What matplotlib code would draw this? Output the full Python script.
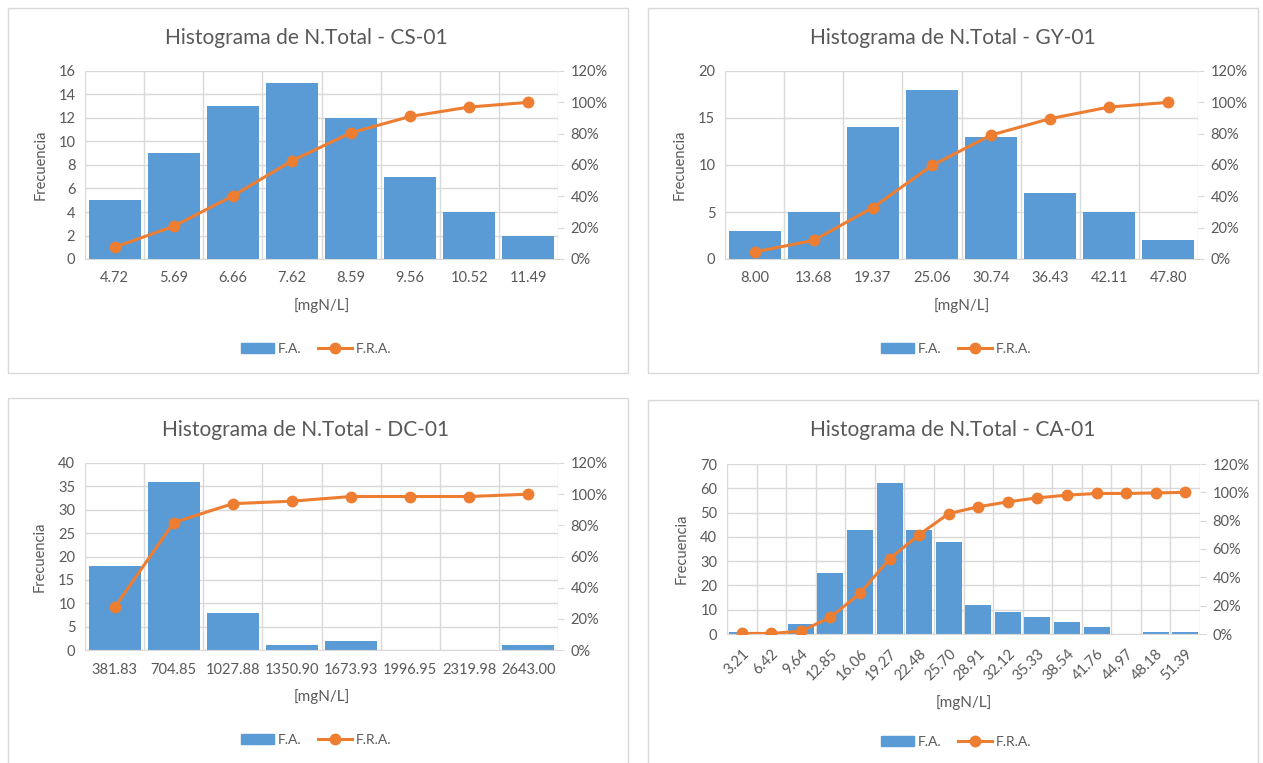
import numpy as np
import matplotlib
matplotlib.use("Agg")
import matplotlib.pyplot as plt
from matplotlib.patches import Rectangle, Patch
from matplotlib.lines import Line2D
from matplotlib.ticker import FuncFormatter

plt.rcParams['font.family'] = ['Lato', 'DejaVu Sans']

# data
cs_labels = ['4.72', '5.69', '6.66', '7.62', '8.59', '9.56', '10.52', '11.49']
cs_freq = [5, 9, 13, 15, 12, 7, 4, 2]
cs_cum = [7.5, 20.9, 40.3, 62.7, 80.6, 91.0, 97.0, 100.0]

gy_labels = ['8.00', '13.68', '19.37', '25.06', '30.74', '36.43', '42.11', '47.80']
gy_freq = [3, 5, 14, 18, 13, 7, 5, 2]
gy_cum = [4.5, 11.9, 32.8, 59.7, 79.1, 89.6, 97.0, 100.0]

dc_labels = ['381.83', '704.85', '1027.88', '1350.90', '1673.93', '1996.95', '2319.98', '2643.00']
dc_freq = [18, 36, 8, 1, 2, 0, 0, 1]
dc_cum = [27.3, 81.8, 93.9, 95.5, 98.5, 98.5, 98.5, 100.0]

ca_labels = ['3.21', '6.42', '9.64', '12.85', '16.06', '19.27', '22.48', '25.70',
             '28.91', '32.12', '35.33', '38.54', '41.76', '44.97', '48.18', '51.39']
ca_freq = [1, 0, 4, 25, 43, 62, 43, 38, 12, 9, 7, 5, 3, 0, 1, 1]
ca_cum = [0.4, 0.4, 2.0, 11.8, 28.7, 53.1, 70.1, 85.0, 89.8, 93.3, 96.1, 98.0, 99.2, 99.2, 99.6, 100.0]

BLUE = '#5B9BD5'
ORANGE = '#ED7D31'
GRID = '#D9D9D9'
TXT = '#595959'

W, H = 1263, 763
fig = plt.figure(figsize=(W / 100, H / 100), dpi=100)


def px_rect(x0, y0, x1, y1):
    return [x0 / W, 1 - y1 / H, (x1 - x0) / W, (y1 - y0) / H]


def draw_panel(panel, axbox, title, title_xy, legend_xy, labels, freq, cum, ymax, ystep, rotate=False):
    # chart border
    px0, py0, px1, py1 = panel
    fig.patches.append(Rectangle((px0 / W, 1 - py1 / H), (px1 - px0) / W, (py1 - py0) / H,
                                 transform=fig.transFigure, fill=False, ec=GRID, lw=1))
    fig.text(title_xy[0] / W, 1 - title_xy[1] / H, title, ha='center', va='center',
             fontsize=15, color=TXT)

    ax = fig.add_axes(px_rect(*axbox))
    x = np.arange(len(labels))
    ax.bar(x, freq, width=0.88, color=BLUE, zorder=2)
    ax.set_xlim(-0.5, len(labels) - 0.5)
    ax.set_ylim(0, ymax)
    ax.set_yticks(np.arange(0, ymax + 0.1, ystep))
    ax.set_xticks(x)
    if rotate:
        ax.set_xticklabels(labels, rotation=45, ha='right', rotation_mode='anchor')
    else:
        ax.set_xticklabels(labels)
    ax.set_xticks(np.arange(-0.5, len(labels), 1), minor=True)
    ax.grid(axis='y', which='major', color=GRID, lw=1, zorder=0)
    ax.grid(axis='x', which='minor', color=GRID, lw=1, zorder=0)
    ax.tick_params(axis='y', which='both', length=0, labelsize=10.5, labelcolor=TXT, pad=7)
    ax.tick_params(axis='x', which='both', length=0, labelsize=10.5, labelcolor=TXT, pad=9)
    for s in ['top', 'right', 'left']:
        ax.spines[s].set_visible(False)
    ax.spines['bottom'].set_color(GRID)
    ax.set_axisbelow(True)
    ax.set_ylabel('Frecuencia', fontsize=10.5, color=TXT, labelpad=8)
    ax.set_xlabel('[mgN/L]', fontsize=11, color=TXT, labelpad=9)

    ax2 = ax.twinx()
    ax2.plot(x, cum, color=ORANGE, lw=2.2, marker='o', ms=7.5, zorder=3)
    ax2.set_ylim(0, 120)
    ax2.set_yticks(np.arange(0, 121, 20))
    ax2.yaxis.set_major_formatter(FuncFormatter(lambda v, p: f'{v:.0f}%'))
    ax2.tick_params(axis='y', length=4, color=GRID, labelsize=10.5, labelcolor=TXT, pad=5)
    for s in ['top', 'right', 'left', 'bottom']:
        ax2.spines[s].set_visible(False)

    handles = [Patch(color=BLUE, label='F.A.'),
               Line2D([0], [0], color=ORANGE, lw=2.2, marker='o', ms=7.5, label='F.R.A.')]
    leg = fig.legend(handles=handles, loc='center', ncol=2, frameon=False,
                     bbox_to_anchor=(legend_xy[0] / W, 1 - legend_xy[1] / H),
                     fontsize=10, handlelength=2.4, handletextpad=0.3, columnspacing=1.2)
    for t in leg.get_texts():
        t.set_color(TXT)


draw_panel((8, 8, 628, 373), (85, 71, 558, 259), 'Histograma de N.Total - CS-01', (306, 38), (316, 349),
           cs_labels, cs_freq, cs_cum, 16, 2)
draw_panel((648, 8, 1258, 373), (725, 71, 1198, 259), 'Histograma de N.Total - GY-01', (953, 38), (956, 349),
           gy_labels, gy_freq, gy_cum, 20, 5)
draw_panel((8, 398, 628, 775), (85, 463, 558, 650), 'Histograma de N.Total - DC-01', (306, 430), (316, 740),
           dc_labels, dc_freq, dc_cum, 40, 5)
draw_panel((648, 400, 1258, 775), (727, 464, 1200, 634), 'Histograma de N.Total - CA-01', (953, 430), (956, 742),
           ca_labels, ca_freq, ca_cum, 70, 10, rotate=True)

fig.savefig('out.png', dpi=100, facecolor='white')
